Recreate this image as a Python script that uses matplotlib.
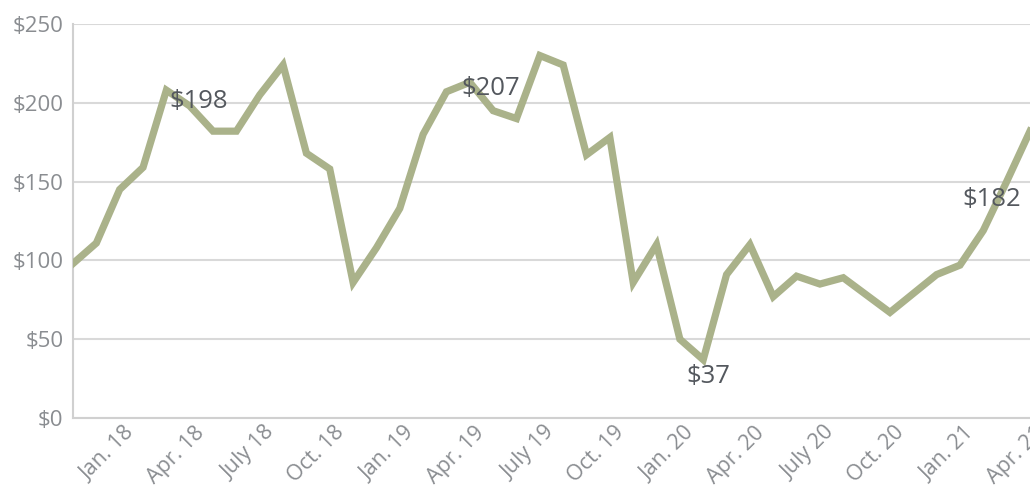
import matplotlib.pyplot as plt
from matplotlib.transforms import ScaledTranslation

plt.rcParams['font.family'] = ['Open Sans', 'DejaVu Sans']

# monthly prices, Nov 2017 - Apr 2021
months = ['2017-11', '2017-12',
          '2018-01', '2018-02', '2018-03', '2018-04', '2018-05', '2018-06',
          '2018-07', '2018-08', '2018-09', '2018-10', '2018-11', '2018-12',
          '2019-01', '2019-02', '2019-03', '2019-04', '2019-05', '2019-06',
          '2019-07', '2019-08', '2019-09', '2019-10', '2019-11', '2019-12',
          '2020-01', '2020-02', '2020-03', '2020-04', '2020-05', '2020-06',
          '2020-07', '2020-08', '2020-09', '2020-10', '2020-11', '2020-12',
          '2021-01', '2021-02', '2021-03', '2021-04']
price = [98, 111, 145, 159, 208, 198, 182, 182, 205, 224, 168, 158,
         86, 108, 133, 180, 207, 213, 195, 190, 230, 224, 167, 178,
         86, 110, 50, 37, 91, 110, 77, 90, 85, 89, 78, 67,
         79, 91, 97, 119, 150, 182]

tick_months = ['2018-01', '2018-04', '2018-07', '2018-10', '2019-01', '2019-04',
               '2019-07', '2019-10', '2020-01', '2020-04', '2020-07', '2020-10',
               '2021-01', '2021-04']
tick_labels = ['Jan. 18', 'Apr. 18', 'July 18', 'Oct. 18', 'Jan. 19', 'Apr. 19',
               'July 19', 'Oct. 19', 'Jan. 20', 'Apr. 20', 'July 20', 'Oct. 20',
               'Jan. 21', 'Apr. 21']

# callouts: month, offset of label centre from the point (pixels)
callout_months = ['2018-04', '2019-03', '2020-02', '2021-04']
callout_offsets = [(9, 4), (44, 3), (5, -17), (-38, -68)]

line_color = '#aab28a'
grid_color = '#d9d9d9'
tick_color = '#8a8d91'
label_color = '#54585e'

x = list(range(len(months)))

fig = plt.figure(figsize=(10.3, 5.04), dpi=100)
ax = fig.add_axes([73 / 1030, 86 / 504, 1 - 73 / 1030, (418 - 24) / 504])

ax.plot(x, price, color=line_color, lw=5.2, solid_joinstyle='miter', zorder=3)

ax.set_xlim(0, len(months) - 1)
ax.set_ylim(0, 250)
ax.set_yticks(range(0, 251, 50))
ax.set_yticklabels(['$%d' % v for v in range(0, 251, 50)])
ax.grid(axis='y', color=grid_color, lw=1.5, zorder=0)
ax.set_axisbelow(True)

for s in ['top', 'right']:
    ax.spines[s].set_visible(False)
for s in ['left', 'bottom']:
    ax.spines[s].set_color('#d0d0d0')
    ax.spines[s].set_linewidth(1.5)

ax.tick_params(axis='both', length=0, colors=tick_color)
ax.tick_params(axis='y', pad=7, labelsize=16)
ax.tick_params(axis='x', pad=3, labelsize=15.5)

ax.set_xticks([months.index(m) for m in tick_months])
ax.set_xticklabels(tick_labels, rotation=45, ha='right', va='top',
                   rotation_mode='anchor')
# nudge the slanted month labels a little to the right
shift = ScaledTranslation(4 / 100, 0, fig.dpi_scale_trans)
for lbl in ax.get_xticklabels():
    lbl.set_transform(lbl.get_transform() + shift)

for m, (dx, dy) in zip(callout_months, callout_offsets):
    i = months.index(m)
    ax.annotate('$%d' % price[i], xy=(i, price[i]),
                xytext=(dx * 0.72, dy * 0.72), textcoords='offset points',
                ha='center', va='center', fontsize=18.5, color=label_color,
                zorder=4, annotation_clip=False)

fig.savefig('out.png', dpi=100)
